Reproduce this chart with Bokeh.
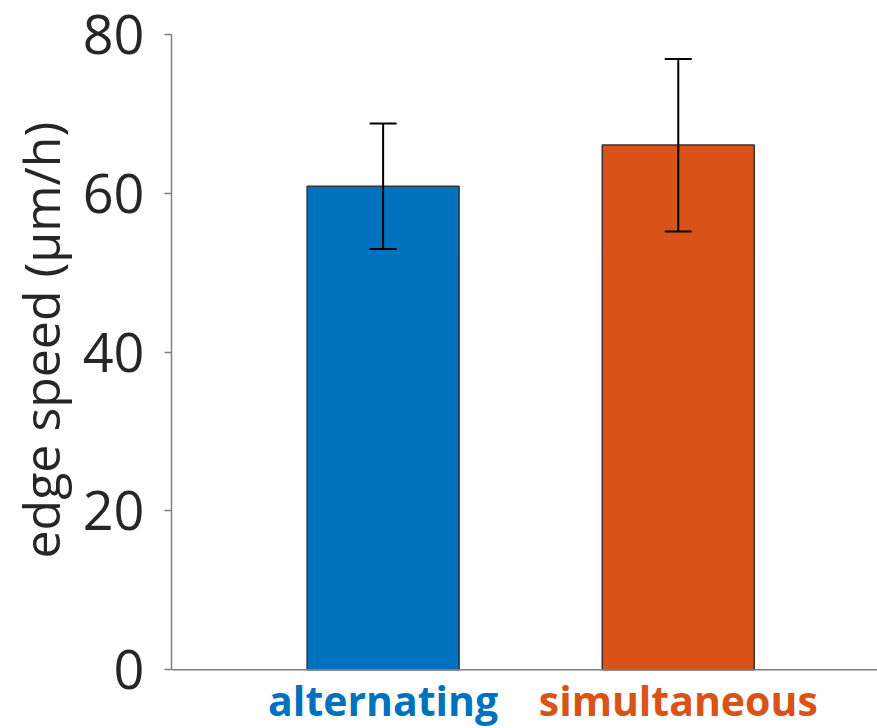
from bokeh.plotting import figure
from bokeh.models import FixedTicker, Whisker, TeeHead, ColumnDataSource, Range1d, Span, Title
from bokeh.core.properties import value
from bokeh.embed import file_html
from bokeh.resources import INLINE

categories = ["alternating", "simultaneous"]
means = [60.9, 66.1]
err_upper = [68.8, 76.9]
err_lower = [53.0, 55.2]
bar_colors = ["#0072BD", "#D95319"]
y_ticks = [0, 20, 40, 60, 80]
y_label = "edge speed (µm/h)"

xs = [i + 1 for i in range(len(categories))]
src = ColumnDataSource(dict(x=xs, top=means, upper=err_upper, lower=err_lower, color=bar_colors))
lab = ColumnDataSource(dict(x=xs, y=[-3.8] * len(xs), text=categories, color=bar_colors))

p = figure(width=877, height=728, output_backend="svg", toolbar_location=None,
           x_range=Range1d(0.283, 2.675), y_range=Range1d(-7.39, 80),
           min_border_left=170, min_border_right=0, min_border_top=34, min_border_bottom=0)
p.outline_line_color = None
p.grid.visible = False
p.xaxis.visible = False
p.background_fill_color = "white"
p.border_fill_color = "white"

p.add_layout(Span(location=0, dimension="width", line_color="#7f7f7f", line_width=1.5))

p.vbar(x="x", top="top", width=0.515, bottom=0, fill_color="color",
       line_color="#333333", line_width=1.5, source=src)

w = Whisker(base="x", upper="upper", lower="lower", source=src, line_color="black", line_width=2,
            level="overlay",
            upper_head=TeeHead(size=27, line_color="black", line_width=2),
            lower_head=TeeHead(size=27, line_color="black", line_width=2))
p.add_layout(w)

p.text(x="x", y="y", text="text", text_color="color", source=lab,
       text_align="center", text_baseline="alphabetic",
       text_font=value("Open Sans"), text_font_style="bold", text_font_size=value("41px"))

# y axis
ya = p.yaxis[0]
ya.ticker = FixedTicker(ticks=y_ticks)
ya.bounds = (0, 80)
ya.major_label_text_font = "Open Sans"
ya.major_label_text_font_size = "54px"
ya.major_label_text_color = "#262626"
ya.major_label_standoff = 20
ya.axis_line_color = "#7f7f7f"
ya.axis_line_width = 1.5
ya.major_tick_line_color = "#7f7f7f"
ya.major_tick_line_width = 1.5
ya.major_tick_out = 7
ya.major_tick_in = 0
ya.minor_tick_line_color = None

t = Title(text=y_label, align="left", offset=170, text_font="Open Sans",
          text_font_size="50px", text_font_style="normal", text_color="#262626", standoff=9)
p.add_layout(t, "left")

open("out.html", "w").write(file_html(p, INLINE))
